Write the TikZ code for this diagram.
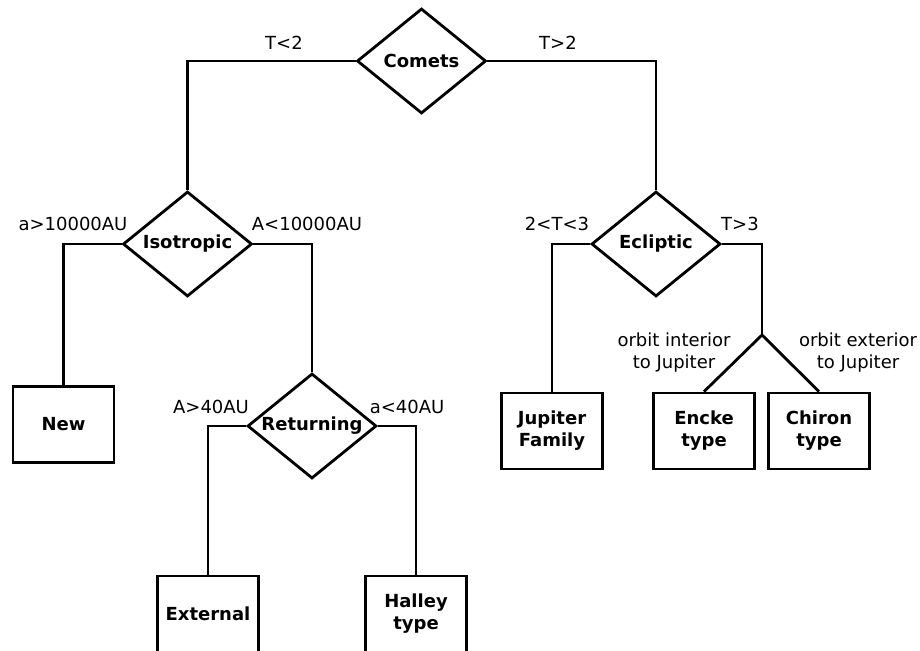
\documentclass[tikz,border=0pt]{standalone}
\usepackage{fontspec}
\setmainfont{DejaVu Sans}
\usetikzlibrary{shapes.geometric}

\begin{document}
\fontsize{18}{22}\selectfont
\begin{tikzpicture}[x=1pt, y=-1pt, line width=2.8pt,
  test/.style={diamond, draw, aspect=1.25, inner sep=0pt, minimum width=129pt, minimum height=105pt, font=\bfseries},
  leaf/.style={rectangle, draw, minimum width=101pt, minimum height=76pt, align=center, font=\bfseries},
  cond/.style={align=center, inner sep=0pt}]

\clip (0,0) rectangle (920,650);

\node[test] (comets) at (421.5,61){Comets};
\node[test] (iso) at (187.5,244){Isotropic};
\node[test] (ecl) at (656,244){Ecliptic};
\node[test] (ret) at (312,426){Returning};



\node[leaf] (new) at (63.5,424.5){New};
\node[leaf] (ext) at (208,614){External};
\node[leaf] (halley) at (416,614){Halley\\type};
\node[leaf] (jup) at (552,431){Jupiter\\Family};
\node[leaf] (encke) at (704,431){Encke\\type};
\node[leaf] (chiron) at (819,431){Chiron\\type};

\coordinate (split) at (762,335);


\draw (comets.west) -| (iso.north);
\draw (comets.east) -| (ecl.north);
\draw (iso.west) -| (new.north);
\draw (iso.east) -| (ret.north);
\draw (ret.west) -| (ext.north);
\draw (ret.east) -| (halley.north);
\draw (ecl.west) -| (jup.north);
\draw (ecl.east) -| (split);
\draw (split) -- (encke.north);
\draw (split) -- (chiron.north);


\node[cond] (lt2) at (284,43){T<2};
\node[cond] (gt2) at (558,43){T>2};
\node[cond] (far) at (73,224){a>10000AU};
\node[cond] (near) at (307,224){A<10000AU};
\node[cond] (gt40) at (211,407){A>40AU};
\node[cond] (lt40) at (407,407){a<40AU};
\node[cond] (mid) at (557,224){2<T<3};
\node[cond] (gt3) at (740,224){T>3};
\node[cond] (inner) at (674,353){orbit interior\\to Jupiter};
\node[cond] (outer) at (858,353){orbit exterior\\to Jupiter};

\end{tikzpicture}
\end{document}
